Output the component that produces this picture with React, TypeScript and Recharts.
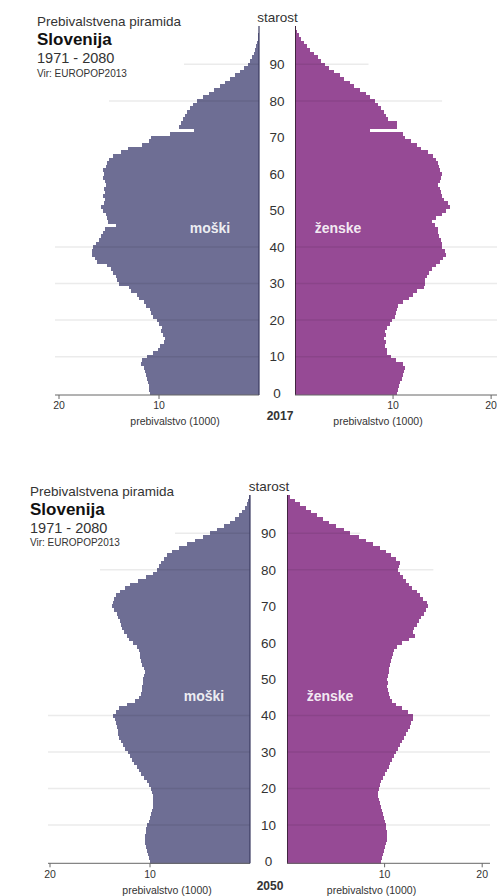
import React from 'react';
import { BarChart, Bar, XAxis, YAxis, ReferenceLine } from 'recharts';

// age groups 0..100
const ages = Array.from({ length: 101 }, (_, i) => i);

// population in thousands, index = age
const male2017 = [
  10.9, 11.0, 11.0, 11.1, 11.2, 11.3, 11.4, 11.5, 11.8, 11.7,
  11.2, 10.6, 10.1, 9.9, 9.5, 9.4, 9.6, 9.8, 9.7, 10.0,
  10.2, 10.6, 10.8, 10.9, 11.3, 11.5, 12.0, 12.2, 12.8, 13.0,
  14.0, 14.2, 14.3, 14.6, 14.8, 15.2, 16.2, 16.4, 16.7, 16.7,
  16.6, 16.3, 16.0, 15.8, 15.6, 15.4, 14.3, 15.1, 15.2, 15.3,
  15.6, 15.8, 15.5, 15.4, 15.6, 15.4, 15.5, 15.3, 15.4, 15.6,
  15.5, 15.6, 15.3, 15.2, 15.0, 14.6, 13.8, 13.1, 11.7, 11.0,
  10.8, 8.9, 6.5, 8.0, 7.8, 7.6, 7.4, 7.2, 6.9, 6.6,
  6.2, 5.6, 5.0, 4.5, 3.9, 3.4, 2.9, 2.4, 1.9, 1.5,
  1.1, 0.9, 0.7, 0.5, 0.4, 0.3, 0.2, 0.15, 0.1, 0.05,
  0.03,
];

const female2017 = [
  10.4, 10.5, 10.6, 10.7, 10.9, 11.0, 11.1, 11.2, 11.0, 10.3,
  9.8, 9.4, 9.4, 9.2, 9.3, 9.1, 9.3, 9.2, 9.4, 9.7,
  9.9, 10.2, 10.3, 10.4, 10.5, 11.0, 11.6, 12.0, 12.4, 13.2,
  13.3, 13.3, 13.5, 13.7, 14.0, 14.4, 14.8, 15.1, 15.4, 15.3,
  15.0, 15.0, 14.9, 14.7, 14.6, 14.6, 14.3, 14.0, 14.4, 15.0,
  15.4, 15.8, 15.6, 15.2, 15.0, 14.9, 14.8, 14.6, 14.8, 14.9,
  15.0, 14.8, 14.7, 14.6, 14.4, 14.1, 13.6, 12.9, 12.4, 11.8,
  11.2, 11.0, 7.6, 10.4, 10.4, 9.5, 9.3, 9.1, 8.8, 8.5,
  8.2, 7.6, 7.2, 6.6, 6.0, 5.6, 5.0, 4.6, 4.0, 3.5,
  3.1, 2.7, 2.3, 1.9, 1.5, 1.2, 0.9, 0.6, 0.4, 0.25,
  0.15,
];

const male2050 = [
  10.0, 10.1, 10.2, 10.3, 10.4, 10.5, 10.5, 10.5, 10.4, 10.4,
  10.3, 10.1, 10.0, 9.9, 9.8, 9.7, 9.7, 9.7, 9.7, 9.8,
  9.9, 10.1, 10.3, 10.6, 10.9, 11.1, 11.3, 11.6, 11.8, 12.0,
  12.2, 12.5, 12.7, 12.9, 13.1, 13.2, 13.2, 13.3, 13.4, 13.5,
  13.7, 13.4, 13.1, 12.3, 11.5, 11.1, 10.9, 10.8, 10.8, 10.7,
  10.7, 10.6, 10.5, 10.6, 10.8, 10.9, 11.0, 11.0, 11.1, 11.3,
  11.7, 12.1, 12.3, 12.6, 12.8, 12.9, 13.0, 13.2, 13.3, 13.6,
  13.8, 13.7, 13.6, 13.4, 13.0, 12.5, 12.0, 11.2, 10.4, 9.7,
  9.3, 9.1, 8.9, 8.6, 8.3, 7.8, 7.1, 6.3, 5.5, 4.7,
  4.0, 3.3, 2.6, 2.0, 1.5, 1.1, 0.8, 0.5, 0.3, 0.15,
  0.05,
];

const female2050 = [
  9.6, 9.7, 9.8, 9.9, 10.0, 10.1, 10.2, 10.2, 10.2, 10.1,
  10.1, 10.0, 9.9, 9.8, 9.7, 9.6, 9.5, 9.4, 9.3, 9.3,
  9.4, 9.5, 9.6, 9.8, 10.0, 10.2, 10.4, 10.6, 10.8, 11.0,
  11.2, 11.4, 11.6, 11.8, 12.0, 12.2, 12.4, 12.6, 12.7, 12.9,
  12.9, 12.4, 11.8, 11.2, 10.8, 10.6, 10.4, 10.3, 10.2, 10.3,
  10.2, 10.3, 10.4, 10.5, 10.6, 10.7, 10.8, 10.9, 11.0, 11.3,
  11.8, 12.5, 13.1, 12.9, 13.0, 13.3, 13.5, 13.7, 14.0, 14.2,
  14.4, 14.3, 13.9, 13.6, 13.3, 12.8, 12.5, 12.2, 11.9, 11.6,
  11.4, 11.5, 11.6, 11.2, 10.7, 10.1, 9.5, 8.8, 8.1, 7.4,
  6.5, 5.8, 5.0, 4.3, 3.7, 3.1, 2.5, 1.9, 1.3, 0.8,
  0.3,
];

const xTicks = [10, 20];
const fullGrid = [10, 20, 30, 40];
const shortGrid = [
  { age: 80, reach: 15 },
  { age: 90, reach: 7.5 },
];

const font = "'Liberation Sans', Arial, Helvetica, sans-serif";
const maleColor = '#6e6e94';
const femaleColor = '#964a95';

const layout2017 = { plotTop: 26, plotBottom: 395, left0: 55, left1: 259, right0: 295, right1: 497, leftMax: 20.4, rightMax: 20.6 };
const layout2050 = { plotTop: 495, plotBottom: 863.3, left0: 48, left1: 250, right0: 287, right1: 490, leftMax: 20.2, rightMax: 20.8 };

// room for the outermost tick label so it is not cut
const pad = 14;

function gridLines() {
  const lines = fullGrid.map((a) => (
    <ReferenceLine key={'g' + a} y={a} stroke="#000" strokeOpacity={0.08} strokeWidth={1.5} />
  ));
  shortGrid.forEach((g) => {
    lines.push(
      <ReferenceLine
        key={'s' + g.age}
        segment={[{ x: 0, y: g.age }, { x: g.reach, y: g.age }]}
        stroke="#000"
        strokeOpacity={0.08}
        strokeWidth={1.5}
      />
    );
  });
  return lines;
}

function Pyramid({ L, male, female }: { L: any; male: number[]; female: number[] }) {
  const rows = ages.map((age, i) => ({ age, m: male[i], f: female[i] }));
  const gap = L.right0 - L.left1;
  const leftW = L.left1 - L.left0;
  const rightW = L.right1 - L.right0;
  const h = L.plotBottom - L.plotTop;

  const ageTick = (props: any) => {
    const v = Number(props.payload.value);
    if (v % 10 !== 0 || v > 90) return <g />;
    return (
      <text x={pad + leftW + gap / 2} y={props.y} dy="0.36em" textAnchor="middle" fontSize={13.5} fill="#333" fontFamily={font}>
        {v}
      </text>
    );
  };

  const xTickStyle = { fontSize: 10.5, fill: '#333', fontFamily: font };

  return (
    <>
      <div style={{ position: 'absolute', left: L.left0 - pad, top: L.plotTop }}>
        <BarChart width={pad + leftW + gap} height={h + 30} data={rows} layout="vertical"
          margin={{ top: 0, right: 0, bottom: 0, left: pad }} barCategoryGap={0} barGap={0}>
          <XAxis type="number" domain={[0, L.leftMax]} reversed allowDataOverflow ticks={xTicks} interval={0}
            tickSize={4} tickMargin={3} tick={xTickStyle} stroke="#666" height={30} />
          <YAxis type="category" dataKey="age" reversed orientation="right" width={gap} interval={0}
            tickLine={false} axisLine={{ stroke: '#3a3a60', strokeWidth: 1.2 }} tick={ageTick} />
          <Bar dataKey="m" fill={maleColor} shapeRendering="crispEdges" isAnimationActive={false} />
          {gridLines()}
        </BarChart>
      </div>
      <div style={{ position: 'absolute', left: L.right0, top: L.plotTop }}>
        <BarChart width={rightW} height={h + 30} data={rows} layout="vertical"
          margin={{ top: 0, right: 0, bottom: 0, left: 0 }} barCategoryGap={0} barGap={0}>
          <XAxis type="number" domain={[0, L.rightMax]} allowDataOverflow ticks={xTicks} interval={0}
            tickSize={4} tickMargin={3} tick={xTickStyle} stroke="#666" height={30} />
          <YAxis type="category" dataKey="age" reversed hide />
          <Bar dataKey="f" fill={femaleColor} shapeRendering="crispEdges" isAnimationActive={false} />
          {gridLines()}
          <ReferenceLine x={0} stroke="#111" strokeWidth={1.3} />
        </BarChart>
      </div>
    </>
  );
}

function Captions({ tx, ty, mid, sy, sexY, moskiX, zenskeX, capY, capL, capR, year, yearX, yearY }: any) {
  return (
    <g fontFamily={font}>
      <text x={tx} y={ty} fontSize={13.5} fill="#333">Prebivalstvena piramida</text>
      <text x={tx} y={ty + 19} fontSize={17} fontWeight="bold" fill="#111">Slovenija</text>
      <text x={tx} y={ty + 37} fontSize={14.5} fill="#333">1971 - 2080</text>
      <text x={tx} y={ty + 50.5} fontSize={10} fill="#333">Vir: EUROPOP2013</text>
      <text x={mid} y={sy} fontSize={13.5} fill="#333" textAnchor="middle">starost</text>
      <text x={moskiX} y={sexY} fontSize={14} fontWeight="bold" fill="#fff" fillOpacity={0.9} textAnchor="middle">moški</text>
      <text x={zenskeX} y={sexY} fontSize={14} fontWeight="bold" fill="#fff" fillOpacity={0.9} textAnchor="middle">ženske</text>
      <text x={capL} y={capY} fontSize={10.5} fill="#333" textAnchor="middle">prebivalstvo (1000)</text>
      <text x={capR} y={capY} fontSize={10.5} fill="#333" textAnchor="middle">prebivalstvo (1000)</text>
      <text x={yearX} y={yearY} fontSize={12} fontWeight="bold" fill="#333" textAnchor="middle">{year}</text>
    </g>
  );
}

export default function App() {
  return (
    <div style={{ position: 'absolute', left: 0, top: 0, width: 497, height: 896, overflow: 'hidden', background: '#fff' }}>
      <Pyramid L={layout2017} male={male2017} female={female2017} />
      <Pyramid L={layout2050} male={male2050} female={female2050} />
      <svg width={497} height={896} style={{ position: 'absolute', left: 0, top: 0, pointerEvents: 'none' }}>
        <Captions tx={37} ty={26} mid={277.5} sy={22} sexY={232.5} moskiX={210} zenskeX={338}
          capY={424.5} capL={175} capR={378} year="2017" yearX={280} yearY={420} />
        <Captions tx={30} ty={495.5} mid={269} sy={491} sexY={701} moskiX={204} zenskeX={330}
          capY={894} capL={167} capR={371.5} year="2050" yearX={270} yearY={890} />
      </svg>
    </div>
  );
}
